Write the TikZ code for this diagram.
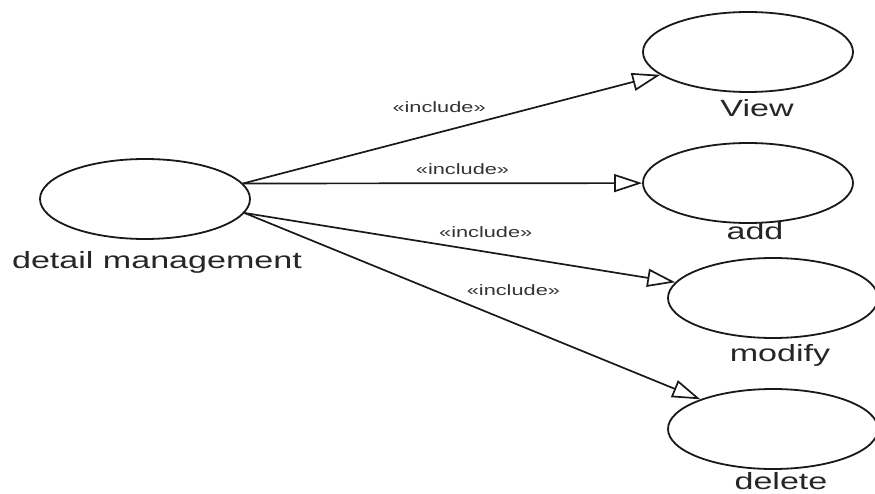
\documentclass[tikz,border=0pt]{standalone}
\usepackage{fontspec}
\setmainfont{Liberation Sans}
\usetikzlibrary{shapes.geometric,arrows.meta}
\tikzset{
  usecase/.style={ellipse, draw=black!90, line width=1.8pt, minimum width=210pt, minimum height=80pt},
  ucname/.style={inner sep=0pt, text=black!85, font=\fontsize{23.5}{26}\selectfont},
  incl/.style={draw=black!90, line width=1.7pt, -{Triangle[open, length=28pt, width=18pt, fill=white]}},
  stereo/.style={inner sep=0pt, text=black!80, font=\fontsize{15}{18}\selectfont}
}
\newcommand{\widetext}[1]{\scalebox{1.45}[1]{#1}}

\begin{document}
\begin{tikzpicture}[x=1pt,y=-1pt]
\useasboundingbox (0,0) rectangle (875,494);

\node[usecase](dm) at (145,199) {};
\node[ucname](dmname) at (157,262) {\widetext{detail management}};

\node[usecase](view) at (748,52) {};
\node[ucname](viewname) at (757,108) {\widetext{View}};
\node[usecase](add) at (748,183) {};
\node[ucname](addname) at (755,231) {\widetext{add}};
\node[usecase](modify) at (773,298) {};
\node[ucname](modifyname) at (780,355) {\widetext{modify}};
\node[usecase](delete) at (773,429) {};
\node[ucname](deletename) at (781,481) {\widetext{delete}};

\draw[incl] (dm.9) -- node[stereo, pos=0.47, above=19pt]{\widetext{«include»}} (view);
\draw[incl] (dm.9) -- node[stereo, pos=0.55, above=8pt]{\widetext{«include»}} (add);
\draw[incl] (dm.-8) -- node[stereo, pos=0.56, above=13pt]{\widetext{«include»}} (modify);
\draw[incl] (dm.-8) -- node[stereo, pos=0.59, above=26pt]{\widetext{«include»}} (delete);
\end{tikzpicture}
\end{document}
